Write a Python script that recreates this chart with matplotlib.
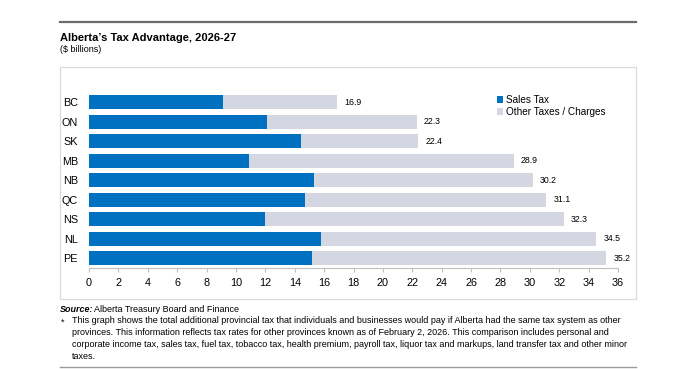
import matplotlib.pyplot as plt
from matplotlib.patches import Rectangle, Patch
from matplotlib.lines import Line2D

plt.rcParams["font.family"] = ["Liberation Sans", "DejaVu Sans"]

provinces = ["BC", "ON", "SK", "MB", "NB", "QC", "NS", "NL", "PE"]
sales_tax = [9.1, 12.1, 14.4, 10.9, 15.3, 14.7, 12.0, 15.8, 15.2]
totals = [16.9, 22.3, 22.4, 28.9, 30.2, 31.1, 32.3, 34.5, 35.2]
other_taxes = [t - s for t, s in zip(totals, sales_tax)]
x_ticks = list(range(0, 37, 2))

BLUE = "#0070C0"
GRAY = "#D4D6E1"

fig = plt.figure(figsize=(6.8, 3.69), dpi=100)

# top rule and chart frame
fig.add_artist(Line2D([60 / 680, 636 / 680], [1 - 22 / 369, 1 - 22 / 369],
                      color="#6d6d6d", linewidth=1.6, transform=fig.transFigure))
fig.add_artist(Rectangle((60 / 680, 1 - 299 / 369), 576 / 680, 232 / 369,
                         transform=fig.transFigure, fill=False,
                         edgecolor="#d9d9d9", linewidth=0.8))
fig.add_artist(Line2D([60 / 680, 636 / 680], [1 - 367 / 369, 1 - 367 / 369],
                      color="#9a9a9a", linewidth=1.0, transform=fig.transFigure))

fig.text(60 / 680, 1 - 38 / 369, "Alberta\u2019s Tax Advantage, 2026-27",
         fontsize=8, fontweight="bold", va="center", ha="left")
fig.text(60 / 680, 1 - 50 / 369, "($ billions)", fontsize=6.5, va="center", ha="left")

ax = fig.add_axes([89 / 680, 1 - 268 / 369, 529 / 680, 175.5 / 369])
y = list(range(len(provinces)))
ax.barh(y, sales_tax, height=0.72, color=BLUE, label="Sales Tax")
ax.barh(y, other_taxes, left=sales_tax, height=0.72, color=GRAY,
        label="Other Taxes / Charges")
for yi, t in zip(y, totals):
    ax.text(t + 0.5, yi, f"{t:.1f}", va="center", ha="left", fontsize=6.3)

ax.set_ylim(len(provinces) - 0.5, -0.5)
ax.set_xlim(0, 36)
ax.set_xticks(x_ticks)
ax.set_yticks(y)
ax.set_yticklabels(provinces)
ax.tick_params(axis="y", length=0, labelsize=7.8, pad=8)
ax.tick_params(axis="x", length=3, color="#bfbfbf", labelsize=7.8, pad=4)
for side in ["top", "right", "left"]:
    ax.spines[side].set_visible(False)
ax.spines["bottom"].set_color("#bfbfbf")
ax.spines["bottom"].set_linewidth(0.8)

handles = [Patch(facecolor=BLUE, edgecolor="none"),
           Patch(facecolor=GRAY, edgecolor="none")]
ax.legend(handles, ["Sales Tax", "Other Taxes / Charges"],
          loc="upper left", bbox_to_anchor=(0.76, 1.02), frameon=False,
          fontsize=7.2, handlelength=0.6, handleheight=0.6, handletextpad=0.3,
          labelspacing=0.2, borderaxespad=0.2)

fig.text(60 / 680, 1 - 310 / 369, "Source:", fontsize=6.5, fontweight="bold",
         fontstyle="italic", va="center", ha="left")
fig.text(94 / 680, 1 - 310 / 369, "Alberta Treasury Board and Finance",
         fontsize=6.5, va="center", ha="left")
fig.text(61 / 680, 1 - 322 / 369, "*", fontsize=6.5, va="center", ha="left")
note = ("This graph shows the total additional provincial tax that individuals and businesses would pay if Alberta had the same tax system as other\n"
        "provinces. This information reflects tax rates for other provinces known as of February 2, 2026. This comparison includes personal and\n"
        "corporate income tax, sales tax, fuel tax, tobacco tax, health premium, payroll tax, liquor tax and markups, land transfer tax and other minor\n"
        "taxes.")
fig.text(72 / 680, 1 - 316 / 369, note, fontsize=6.5, va="top", ha="left",
         linespacing=1.42)

fig.savefig("out.png", dpi=100)
